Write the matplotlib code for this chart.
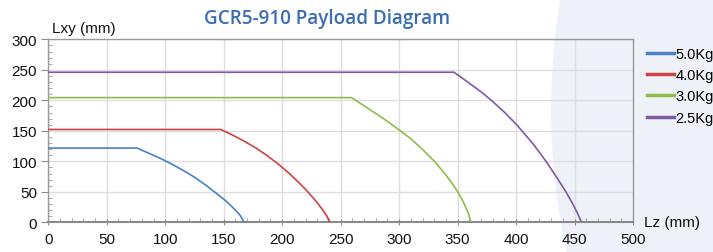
import matplotlib.pyplot as plt
from matplotlib.patches import Ellipse
from matplotlib.ticker import MultipleLocator

# payload curves (Lz, Lxy in mm)
labels = ["5.0Kg", "4.0Kg", "3.0Kg", "2.5Kg"]
colors = ["#4a80c8", "#cc4444", "#8fbc4c", "#7d5aa8"]

lz_50 = [0, 75.9, 85, 95, 105, 115, 125, 135, 145, 150, 155, 160, 164, 167.5]
lxy_50 = [121.7, 121.7, 114, 105.5, 96, 85.5, 74, 60.5, 45.5, 38, 29.5, 20, 11.5, 0]

lz_40 = [0, 147.5, 157, 167, 177, 187, 197, 207, 217, 224, 230, 235, 238.5, 240.5]
lxy_40 = [152.2, 152.2, 143.5, 133.5, 122.5, 109.5, 95, 78.5, 60, 45.5, 32, 19.5, 9.5, 0]

lz_30 = [0, 259.4, 270, 280, 290, 300, 310, 320, 330, 340, 345, 350, 355, 359, 361.4]
lxy_30 = [204.4, 204.4, 191, 178.5, 165.5, 151.5, 137, 119.5, 100.5, 77.5, 64.5, 50.5, 33, 16, 0]

lz_25 = [0, 346.9, 355, 365, 372, 380, 390, 400, 405, 415, 425.6, 435, 442.6, 448, 452, 456]
lxy_25 = [246, 246, 235, 221, 211, 198, 180.5, 161, 150, 127.5, 100, 73, 50, 32, 17, 0]

series = [(lz_50, lxy_50), (lz_40, lxy_40), (lz_30, lxy_30), (lz_25, lxy_25)]

W, H = 713, 253
fig = plt.figure(figsize=(W / 100, H / 100), dpi=100)
fig.patch.set_facecolor("white")

# pale circle in the background on the right
circ = Ellipse((1211 / W, 143 / H), width=1320 / W, height=1320 / H,
               transform=fig.transFigure, facecolor="#eef2f8", edgecolor="none", zorder=-5)
fig.patches.append(circ)

ax = fig.add_axes([48.3 / W, (H - 223.3) / H, (633 - 48.3) / W, (223.3 - 40.3) / H])
ax.set_zorder(2)
ax.patch.set_alpha(0)

for (xs, ys), c, lab in zip(series, colors, labels):
    ax.plot(xs, ys, color=c, lw=1.2, label=lab, zorder=3)

ax.set_xlim(0, 500)
ax.set_ylim(0, 300)
ax.xaxis.set_major_locator(MultipleLocator(50))
ax.yaxis.set_major_locator(MultipleLocator(50))
ax.xaxis.set_minor_locator(MultipleLocator(10))
ax.yaxis.set_minor_locator(MultipleLocator(10))
ax.grid(True, which="major", color="#dddddd", lw=1.0, zorder=1)

for s in ["top", "right", "left"]:
    ax.spines[s].set_color("#9a9a9a")
    ax.spines[s].set_linewidth(1.0)
ax.spines["bottom"].set_color("#8a8a8a")
ax.spines["bottom"].set_linewidth(1.5)

ax.tick_params(axis="y", which="major", direction="out", length=5, color="#8a8a8a",
               labelsize=11, pad=3)
ax.tick_params(axis="y", which="minor", direction="in", length=3, color="#9a9a9a")
ax.tick_params(axis="x", which="major", direction="inout", length=4, color="#8a8a8a",
               labelsize=11, pad=5)
ax.tick_params(axis="x", which="minor", direction="in", length=3, color="#9a9a9a")
for lbl in ax.get_xticklabels() + ax.get_yticklabels():
    lbl.set_fontfamily("Liberation Sans")
    lbl.set_color("#111111")

fig.text(52 / W, (H - 33) / H, "Lxy (mm)", fontsize=11, family="Liberation Sans",
         color="#111111")
fig.text(644 / W, (H - 227) / H, "Lz (mm)", fontsize=11, family="Liberation Sans",
         color="#111111")
fig.text(327 / W, (H - 24) / H, "GCR5-910 Payload Diagram", fontsize=13.6,
         fontweight=600, family="Open Sans", color="#3a6db5", ha="center")

leg = fig.legend(loc="upper left", bbox_to_anchor=(641 / W, (H - 42) / H), frameon=False,
                 prop={"family": "Liberation Sans", "size": 10.5}, handlelength=1.85,
                 handletextpad=0.1, labelspacing=0.5, borderaxespad=0)
for h in leg.legend_handles:
    h.set_linewidth(2.5)

fig.savefig("out.png", dpi=100)
